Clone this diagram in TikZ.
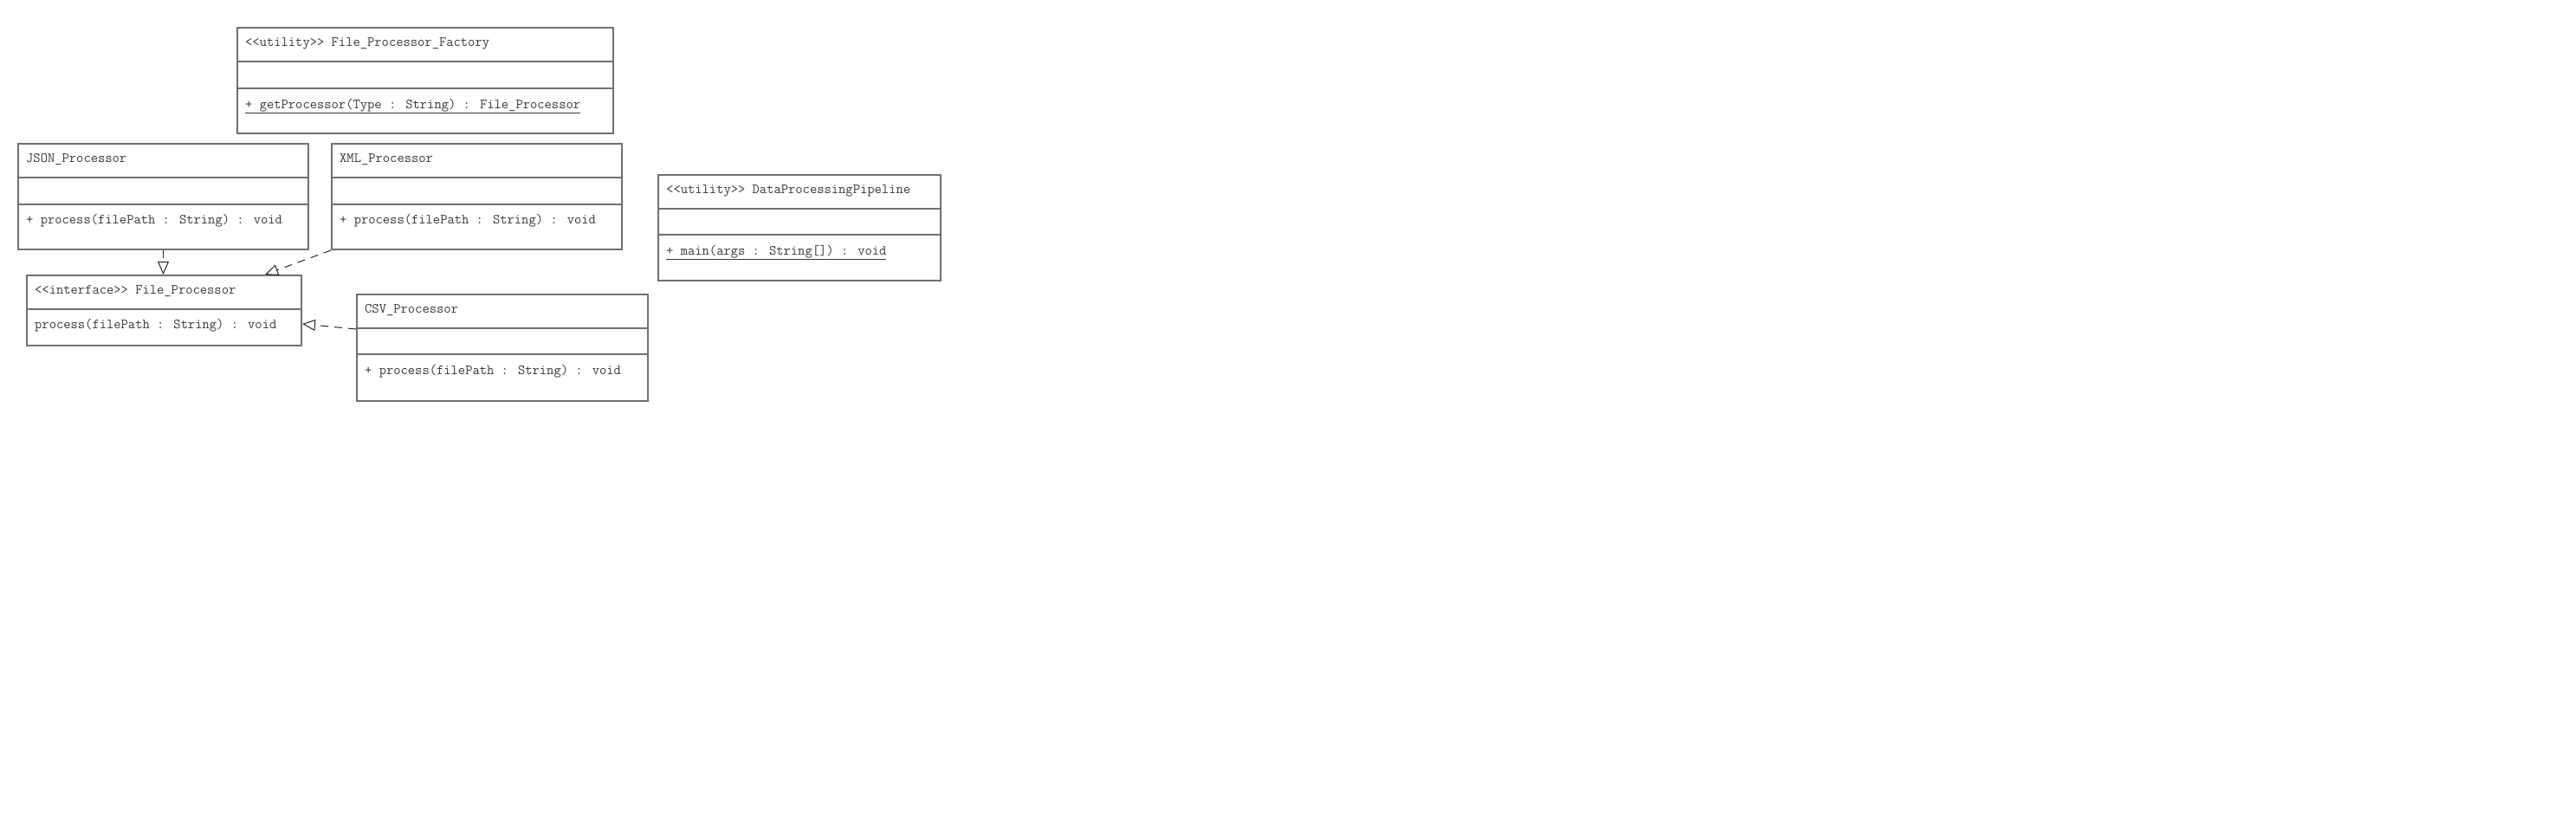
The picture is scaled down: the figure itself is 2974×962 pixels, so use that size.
\documentclass[tikz,border=0pt]{standalone}
\usepackage{fontspec}
\usetikzlibrary{arrows.meta}
\definecolor{boxgray}{HTML}{707070}
\definecolor{txtgray}{HTML}{383838}
\tikzset{
  umlbox/.style={draw=boxgray, line width=2pt, inner sep=0pt, anchor=north west, fill=none},
  divider/.style={draw=boxgray, line width=2pt},
  umltext/.style={anchor=base west, inner sep=0pt, text=txtgray, font=\ttfamily\fontsize{16.1pt}{19pt}\selectfont},
  realize/.style={draw=black!85, line width=1pt, dash pattern=on 9pt off 7pt,
    -{Triangle[open, length=15pt, width=13pt, line width=1pt]}}
}
\begin{document}
\begin{tikzpicture}[x=1pt, y=-1pt]
\useasboundingbox (0,0) rectangle (2974,962);
% File_Processor_Factory
\node[umlbox, minimum width=434pt, minimum height=122pt] (factory) at (273,31) {};
\draw[divider] (273,71) -- (707,71);
\draw[divider] (273,102) -- (707,102);
\node[umltext] (factoryT) at (283,53) {<{}<utility>{}> File\_Processor\_Factory};
\node[umltext] (factoryM) at (283,125) {\underline{+ getProcessor(Type : String) : File\_Processor}};
% JSON_Processor
\node[umlbox, minimum width=335pt, minimum height=122pt] (json) at (20,165) {};
\draw[divider] (20,205) -- (355,205);
\draw[divider] (20,236) -- (355,236);
\node[umltext] (jsonT) at (30,187) {JSON\_Processor};
\node[umltext] (jsonM) at (30,258) {+ process(filePath : String) : void};
% XML_Processor
\node[umlbox, minimum width=335pt, minimum height=122pt] (xml) at (382,165) {};
\draw[divider] (382,205) -- (717,205);
\draw[divider] (382,236) -- (717,236);
\node[umltext] (xmlT) at (392,187) {XML\_Processor};
\node[umltext] (xmlM) at (392,258) {+ process(filePath : String) : void};
% DataProcessingPipeline
\node[umlbox, minimum width=326pt, minimum height=122pt] (dpp) at (759,201) {};
\draw[divider] (759,241) -- (1085,241);
\draw[divider] (759,271) -- (1085,271);
\node[umltext] (dppT) at (769,223) {<{}<utility>{}> DataProcessingPipeline};
\node[umltext] (dppM) at (769,294) {\underline{+ main(args : String[]) : void}};
% File_Processor interface
\node[umlbox, minimum width=317pt, minimum height=81pt] (fp) at (30,317) {};
\draw[divider] (30,357) -- (347,357);
\node[umltext] (fpT) at (40,339) {<{}<interface>{}> File\_Processor};
\node[umltext] (fpM) at (40,379) {process(filePath : String) : void};
% CSV_Processor
\node[umlbox, minimum width=336pt, minimum height=123pt] (csv) at (411,339) {};
\draw[divider] (411,379) -- (747,379);
\draw[divider] (411,409) -- (747,409);
\node[umltext] (csvT) at (421,361) {CSV\_Processor};
\node[umltext] (csvM) at (421,432) {+ process(filePath : String) : void};
% realizations
\draw[realize] (json.south) -- (json.south |- fp.north);
\draw[realize] (xml.south west) -- ([xshift=276pt]fp.north west);
\draw[realize] ([yshift=-41pt]csv.north west) -- ([yshift=-57pt]fp.north east);
\end{tikzpicture}
\end{document}
